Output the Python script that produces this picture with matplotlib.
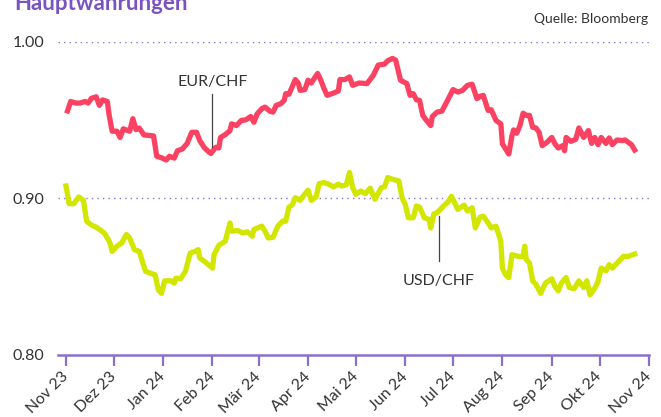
import pandas as pd
import matplotlib.pyplot as plt

plt.rcParams['font.family'] = ['Lato', 'DejaVu Sans']

# EUR/CHF
eur_datum = ["2023-11-02", "2023-11-04", "2023-11-07", "2023-11-10", "2023-11-13", "2023-11-15",
             "2023-11-17", "2023-11-20", "2023-11-22", "2023-11-24", "2023-11-27", "2023-11-28",
             "2023-11-30", "2023-12-03", "2023-12-05", "2023-12-07", "2023-12-11", "2023-12-13",
             "2023-12-15", "2023-12-17", "2023-12-20", "2023-12-26", "2023-12-28", "2023-12-31",
             "2024-01-03", "2024-01-05", "2024-01-08", "2024-01-10", "2024-01-13", "2024-01-16",
             "2024-01-19", "2024-01-22", "2024-01-24", "2024-01-27", "2024-01-30", "2024-01-31",
             "2024-02-03", "2024-02-05", "2024-02-06", "2024-02-09", "2024-02-12", "2024-02-13",
             "2024-02-16", "2024-02-19", "2024-02-22", "2024-02-25", "2024-02-27", "2024-02-29",
             "2024-03-03", "2024-03-05", "2024-03-08", "2024-03-10", "2024-03-12", "2024-03-15",
             "2024-03-17", "2024-03-18", "2024-03-20", "2024-03-22", "2024-03-24", "2024-03-26",
             "2024-03-27", "2024-03-30", "2024-04-01", "2024-04-03", "2024-04-07", "2024-04-09",
             "2024-04-11", "2024-04-13", "2024-04-17", "2024-04-20", "2024-04-21", "2024-04-24",
             "2024-04-27", "2024-04-29", "2024-05-03", "2024-05-08", "2024-05-12", "2024-05-15",
             "2024-05-19", "2024-05-21", "2024-05-24", "2024-05-26", "2024-05-29", "2024-05-31",
             "2024-06-02", "2024-06-04", "2024-06-06", "2024-06-08", "2024-06-10", "2024-06-12",
             "2024-06-14", "2024-06-17", "2024-06-18", "2024-06-21", "2024-06-24", "2024-06-27",
             "2024-07-01", "2024-07-04", "2024-07-07", "2024-07-10", "2024-07-13", "2024-07-16",
             "2024-07-18", "2024-07-20", "2024-07-23", "2024-07-25", "2024-07-28", "2024-07-31",
             "2024-08-01", "2024-08-03", "2024-08-05", "2024-08-07", "2024-08-08", "2024-08-10",
             "2024-08-12", "2024-08-14", "2024-08-16", "2024-08-18", "2024-08-20", "2024-08-22",
             "2024-08-24", "2024-08-26", "2024-08-29", "2024-09-01", "2024-09-03", "2024-09-05",
             "2024-09-08", "2024-09-09", "2024-09-10", "2024-09-13", "2024-09-16", "2024-09-18",
             "2024-09-21", "2024-09-24", "2024-09-26", "2024-09-28", "2024-09-30", "2024-10-02",
             "2024-10-05", "2024-10-07", "2024-10-09", "2024-10-12", "2024-10-15", "2024-10-17",
             "2024-10-19", "2024-10-21", "2024-10-23"]
eur_kurs = [0.956, 0.962, 0.961, 0.961, 0.962, 0.961, 0.964, 0.965, 0.9595, 0.963, 0.962, 0.954,
            0.943, 0.943, 0.939, 0.9445, 0.943, 0.951, 0.944, 0.945, 0.9406, 0.940, 0.927, 0.926,
            0.9246, 0.927, 0.9258, 0.9305, 0.9316, 0.935, 0.9423, 0.9423, 0.937, 0.9323, 0.9295, 0.9288,
            0.9327, 0.9323, 0.939, 0.9408, 0.9434, 0.9477, 0.9466, 0.9498, 0.9503, 0.9524, 0.9487, 0.954,
            0.9574, 0.9584, 0.9558, 0.9552, 0.9595, 0.9606, 0.9627, 0.967, 0.9666, 0.9713, 0.976, 0.9734,
            0.9691, 0.9696, 0.9756, 0.9738, 0.9799, 0.9756, 0.9702, 0.9659, 0.9674, 0.9687, 0.976, 0.976,
            0.9777, 0.9723, 0.9738, 0.9734, 0.9788, 0.9852, 0.9859, 0.988, 0.9895, 0.9884, 0.9756, 0.9745,
            0.9734, 0.9659, 0.967, 0.9631, 0.9627, 0.9531, 0.9503, 0.9466, 0.9524, 0.9552, 0.9558, 0.9616,
            0.9696, 0.968, 0.9691, 0.9723, 0.973, 0.9638, 0.9653, 0.9659, 0.9563, 0.9567, 0.9498, 0.9477,
            0.9349, 0.9316, 0.9284, 0.9402, 0.9438, 0.9417, 0.9466, 0.9545, 0.9531, 0.9531, 0.9455, 0.9451,
            0.9423, 0.9338, 0.9359, 0.939, 0.9349, 0.9323, 0.9338, 0.9305, 0.939, 0.9365, 0.9378, 0.9451,
            0.939, 0.9434, 0.9352, 0.939, 0.9344, 0.939, 0.9352, 0.9387, 0.9344, 0.9374, 0.937, 0.9374,
            0.9359, 0.9344, 0.931]

# USD/CHF
usd_datum = ["2023-11-01", "2023-11-02", "2023-11-03", "2023-11-06", "2023-11-09", "2023-11-12",
             "2023-11-14", "2023-11-17", "2023-11-20", "2023-11-22", "2023-11-25", "2023-11-28",
             "2023-11-29", "2023-11-30", "2023-12-03", "2023-12-06", "2023-12-09", "2023-12-11",
             "2023-12-14", "2023-12-17", "2023-12-19", "2023-12-21", "2023-12-24", "2023-12-27",
             "2023-12-29", "2023-12-31", "2024-01-02", "2024-01-06", "2024-01-08", "2024-01-09",
             "2024-01-12", "2024-01-15", "2024-01-18", "2024-01-21", "2024-01-23", "2024-01-24",
             "2024-01-27", "2024-01-29", "2024-02-01", "2024-02-02", "2024-02-05", "2024-02-09",
             "2024-02-12", "2024-02-13", "2024-02-17", "2024-02-20", "2024-02-23", "2024-02-26",
             "2024-02-27", "2024-03-03", "2024-03-05", "2024-03-07", "2024-03-10", "2024-03-13",
             "2024-03-16", "2024-03-18", "2024-03-20", "2024-03-22", "2024-03-24", "2024-03-27",
             "2024-03-29", "2024-04-01", "2024-04-03", "2024-04-06", "2024-04-08", "2024-04-11",
             "2024-04-14", "2024-04-17", "2024-04-20", "2024-04-22", "2024-04-25", "2024-04-27",
             "2024-04-29", "2024-05-01", "2024-05-04", "2024-05-07", "2024-05-10", "2024-05-13",
             "2024-05-17", "2024-05-19", "2024-05-21", "2024-05-24", "2024-05-28", "2024-05-30",
             "2024-06-01", "2024-06-03", "2024-06-06", "2024-06-08", "2024-06-10", "2024-06-13",
             "2024-06-16", "2024-06-17", "2024-06-19", "2024-06-21", "2024-06-25", "2024-06-28",
             "2024-06-30", "2024-07-02", "2024-07-04", "2024-07-08", "2024-07-10", "2024-07-13",
             "2024-07-15", "2024-07-18", "2024-07-20", "2024-07-23", "2024-07-25", "2024-07-28",
             "2024-07-31", "2024-08-01", "2024-08-03", "2024-08-05", "2024-08-07", "2024-08-11",
             "2024-08-14", "2024-08-15", "2024-08-16", "2024-08-18", "2024-08-20", "2024-08-22",
             "2024-08-25", "2024-08-28", "2024-09-01", "2024-09-03", "2024-09-05", "2024-09-07",
             "2024-09-10", "2024-09-12", "2024-09-15", "2024-09-18", "2024-09-21", "2024-09-23",
             "2024-09-25", "2024-09-28", "2024-09-30", "2024-10-02", "2024-10-05", "2024-10-07",
             "2024-10-09", "2024-10-12", "2024-10-16", "2024-10-19", "2024-10-23"]
usd_kurs = [0.908, 0.9027, 0.8967, 0.8967, 0.901, 0.8988, 0.8855, 0.883, 0.8817, 0.8802, 0.878, 0.8731,
            0.8705, 0.8662, 0.8695, 0.8716, 0.877, 0.8748, 0.8673, 0.8662, 0.8598, 0.8534, 0.8523, 0.8512,
            0.8416, 0.8394, 0.8474, 0.8474, 0.8459, 0.8491, 0.8487, 0.8534, 0.8651, 0.8662, 0.8673, 0.862,
            0.8598, 0.8581, 0.8555, 0.8641, 0.8701, 0.8727, 0.8844, 0.8791, 0.8795, 0.878, 0.8787, 0.8759,
            0.8802, 0.8823, 0.8791, 0.8748, 0.8752, 0.8823, 0.8855, 0.8855, 0.8945, 0.8958, 0.9005, 0.8988,
            0.9016, 0.9053, 0.8988, 0.901, 0.9095, 0.9102, 0.9091, 0.9074, 0.9091, 0.908, 0.9087, 0.9166,
            0.907, 0.9027, 0.9048, 0.9031, 0.9066, 0.8995, 0.907, 0.9074, 0.9134, 0.9123, 0.9112, 0.9005,
            0.8963, 0.8877, 0.8877, 0.8952, 0.8945, 0.8877, 0.8866, 0.8812, 0.8902, 0.8909, 0.8952, 0.898,
            0.9014, 0.8973, 0.893, 0.8958, 0.892, 0.8941, 0.8812, 0.8881, 0.8887, 0.8844, 0.8812, 0.8823,
            0.8727, 0.8555, 0.8512, 0.8495, 0.8641, 0.863, 0.863, 0.8695, 0.8609, 0.8587, 0.8474, 0.8452,
            0.8394, 0.8459, 0.8487, 0.8437, 0.841, 0.8459, 0.8495, 0.8431, 0.8423, 0.8474, 0.8431, 0.8474,
            0.8384, 0.8427, 0.8469, 0.8555, 0.8538, 0.8577, 0.8555, 0.8587, 0.863, 0.863, 0.8645]

monate = ["Nov 23", "Dez 23", "Jan 24", "Feb 24", "Mär 24", "Apr 24", "Mai 24",
          "Jun 24", "Jul 24", "Aug 24", "Sep 24", "Okt 24", "Nov 24"]

lila = "#8a70cc"
text_farbe = "#333333"

fig = plt.figure(figsize=(6.61, 4.17), dpi=100)
ax = fig.add_axes([0.0877, 0.1487, 0.8941, 0.7506])

ax.plot(pd.to_datetime(eur_datum), eur_kurs, color="#fb4262", lw=3.8, solid_joinstyle="round", clip_on=False)
ax.plot(pd.to_datetime(usd_datum), usd_kurs, color="#d3e600", lw=3.8, solid_joinstyle="round", clip_on=False)

ax.set_xlim(pd.Timestamp("2023-10-27"), pd.Timestamp("2024-11-01"))
ax.set_ylim(0.80, 1.00)

# gepunktete Hilfslinien
for y in [0.90, 1.00]:
    ax.axhline(y, color=lila, lw=1.0, ls=(0, (1, 3)), zorder=0)

ticks = pd.date_range("2023-11-01", "2024-11-01", freq="MS")
ax.set_xticks(ticks)
ax.set_xticklabels(monate, rotation=45, ha="right", va="center", rotation_mode="anchor",
                   fontsize=11.5, color=text_farbe)
ax.set_yticks([0.80, 0.90, 1.00])
ax.set_yticklabels(["0.80", "0.90", "1.00"], fontsize=11.5, color=text_farbe)
ax.tick_params(axis="x", length=8, width=1.6, color=lila, pad=6)
ax.tick_params(axis="y", length=0, pad=10)

for s in ["top", "right", "left"]:
    ax.spines[s].set_visible(False)
ax.spines["bottom"].set_color(lila)
ax.spines["bottom"].set_linewidth(1.8)

# Beschriftungen der Linien
ax.text(pd.Timestamp("2024-02-01"), 0.9717, "EUR/CHF", ha="center", va="baseline", fontsize=11.5, color=text_farbe)
ax.plot([pd.Timestamp("2024-02-01")] * 2, [0.9666, 0.9331], color="#444444", lw=0.9)
ax.text(pd.Timestamp("2024-06-22"), 0.845, "USD/CHF", ha="center", va="baseline", fontsize=11.5, color=text_farbe)
ax.plot([pd.Timestamp("2024-06-22")] * 2, [0.8887, 0.8598], color="#444444", lw=0.9)

fig.text(0.021, 0.976, "Hauptwährungen", fontsize=16, fontweight="bold", color="#7b52c1", va="baseline")
fig.text(0.98, 0.945, "Quelle: Bloomberg", fontsize=10, color=text_farbe, ha="right", va="baseline")

fig.savefig("out.png", dpi=100)
